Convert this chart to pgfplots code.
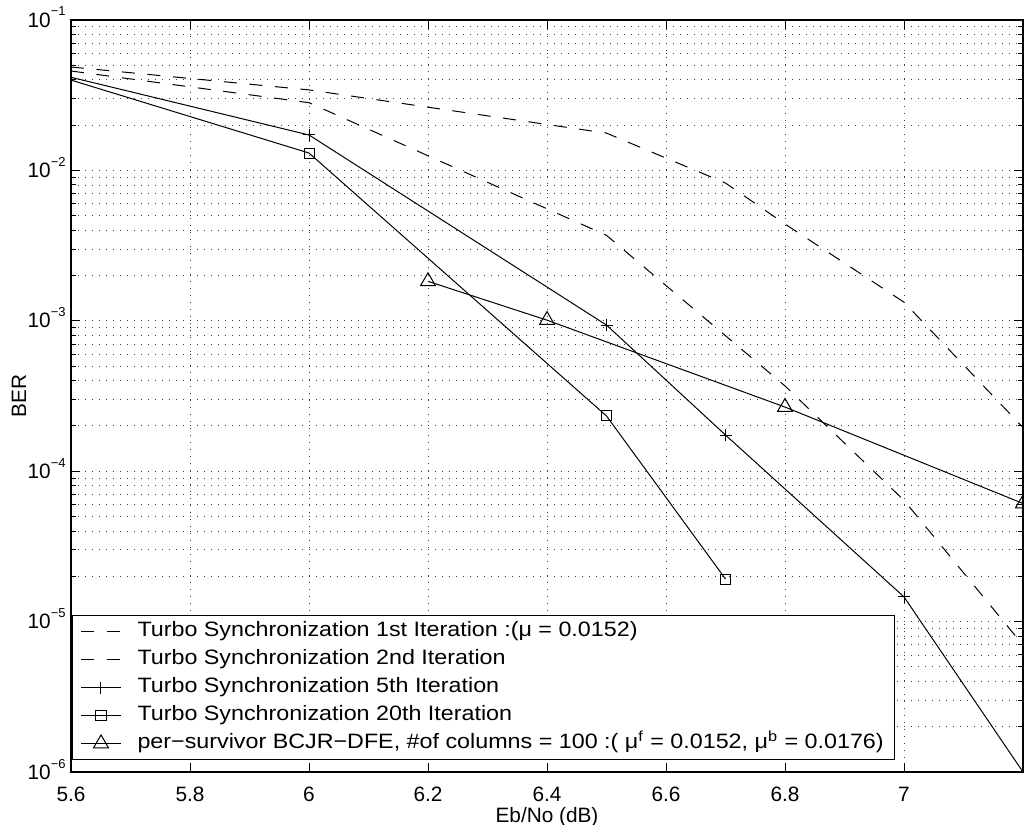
\documentclass[border=0pt]{standalone}
\usepackage{pgfplots}
\pgfplotsset{compat=1.18}
\usepackage{fontspec}
\setmainfont{Liberation Sans}
\newfontfamily\legfont[FakeStretch=1.12]{Liberation Sans}
\newcommand{\tl}[1]{10\raisebox{5.5pt}{\fontsize{6.5}{7}\selectfont −#1}}
\pgfplotstableread{
x y
5.6 0.0487
6.0 0.0343
6.5 0.0177
6.7 0.00824
6.8 0.0044
7.0 0.00133
7.2 0.000195
}\first
\pgfplotstableread{
x y
5.6 0.0458
6.0 0.0282
6.5 0.0037
6.8 0.000369
7.0 0.000064
7.2 0.00000698
}\second
\pgfplotstableread{
x y
5.5 0.0519
6.0 0.0172
6.5 0.000937
6.7 0.000174
7.0 0.0000146
7.2 0.000001
}\fifth
\pgfplotstableread{
x y
5.5 0.0527
6.0 0.01305
6.5 0.000233
6.7 0.0000192
}\twentieth
\pgfplotstableread{
x y
6.2 0.00183
6.4 0.00101
6.8 0.000267
7.2 0.000061
}\psp
\begin{document}
\begin{tikzpicture}
\begin{axis}[
  name=ax,
  scale only axis, width=476pt, height=376pt,
  xmin=5.6, xmax=7.2, ymode=log, ymin=1e-6, ymax=1e-1,
  xtick={5.6,5.8,6,6.2,6.4,6.6,6.8,7},
  xticklabels={5.6,5.8,6,6.2,6.4,6.6,6.8,7},
  ytick={1e-6,1e-5,1e-4,1e-3,1e-2,1e-1},
  yticklabels={\tl{6},\tl{5},\tl{4},\tl{3},\tl{2},\tl{1}},
  minor ytick={2e-6,3e-6,4e-6,5e-6,6e-6,7e-6,8e-6,9e-6,
               2e-5,3e-5,4e-5,5e-5,6e-5,7e-5,8e-5,9e-5,
               2e-4,3e-4,4e-4,5e-4,6e-4,7e-4,8e-4,9e-4,
               2e-3,3e-3,4e-3,5e-3,6e-3,7e-3,8e-3,9e-3,
               2e-2,3e-2,4e-2,5e-2,6e-2,7e-2,8e-2,9e-2},
  tick align=inside,
  major tick length=4.5pt, minor tick length=2.5pt,
  xmajorgrids, ymajorgrids, yminorgrids,
  grid style={black!75, line width=0.45pt, dash pattern=on 0.5pt off 3pt},
  minor grid style={black!75, line width=0.45pt, dash pattern=on 0.5pt off 3pt},
  axis line style={line width=0.6pt},
  every tick/.style={black, line width=0.5pt},
  tick label style={font=\fontsize{10.4}{12}\selectfont},
  xticklabel style={anchor=base, yshift=-14.8pt},
  yticklabel style={anchor=base east, inner xsep=0pt, xshift=-2.5pt, yshift=-3.5pt},
  xlabel={Eb/No (dB)},
  xlabel style={at={(axis description cs:0.5,-0.067)}, anchor=base, font=\fontsize{10.4}{12}\selectfont},
  ylabel={BER},
  ylabel style={at={(axis description cs:-0.0546,0.5)}, anchor=center, font=\fontsize{10.4}{12}\selectfont},
  clip marker paths=true,
  legend cell align=left,
  legend image code/.code={\path (-2pt,0pt) (24.5pt,0pt);\draw[mark repeat=2,mark phase=2,#1] plot coordinates {(0pt,0pt) (10pt,0pt) (20pt,0pt)};},
  legend style={at={(axis description cs:0,0)}, anchor=south west, xshift=0.5pt, yshift=6pt,
    draw=black, line width=0.5pt, fill=white, inner xsep=2pt, inner ysep=2.5pt,
    font=\legfont\fontsize{10.4}{12}\selectfont, row sep=3pt,
    nodes={inner xsep=3.5pt, inner ysep=0pt, text height=8pt, text depth=3pt}},
  every axis plot/.append style={line width=0.5pt, black},
]
\addplot[dash pattern=on 6.5pt off 6.3pt] table[x=x,y=y]{\first};
\addlegendentry{Turbo Synchronization 1st Iteration :(μ = 0.0152)}
\addplot[dash pattern=on 6.5pt off 6.3pt] table[x=x,y=y]{\second};
\addlegendentry{Turbo Synchronization 2nd Iteration}
\addplot[mark=+, mark size=3pt, mark options={solid}] table[x=x,y=y]{\fifth};
\addlegendentry{Turbo Synchronization 5th Iteration}
\addplot[mark=square, mark size=2.5pt, mark options={solid}] table[x=x,y=y]{\twentieth};
\addlegendentry{Turbo Synchronization 20th Iteration}
\addplot[mark=triangle, mark size=4.3pt, mark options={solid}] table[x=x,y=y]{\psp};
\addlegendentry{per−survivor BCJR−DFE, \#of columns = 100 :( μ\textsuperscript{f} = 0.0152, μ\textsuperscript{b} = 0.0176)}
\end{axis}
\pgfresetboundingbox
\path[use as bounding box] ([xshift=-35.5pt,yshift=-26pt]ax.south west) rectangle ([xshift=1pt,yshift=10pt]ax.north east);
\end{tikzpicture}
\end{document}
